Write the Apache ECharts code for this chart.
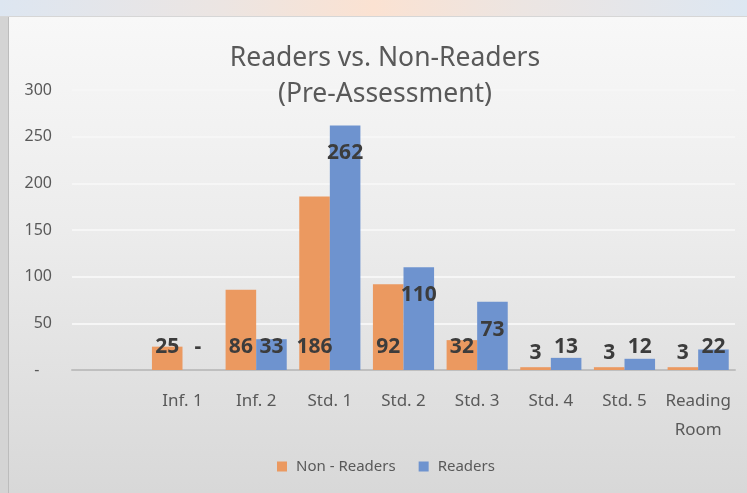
<!DOCTYPE html>
<html>
<head>
<meta charset="utf-8">
<script src="https://cdn.jsdelivr.net/npm/echarts@6/dist/echarts.min.js"></script>
<style>
  html, body { margin: 0; padding: 0; width: 747px; height: 493px; overflow: hidden; background: #f0f0f0; }
  #topstrip { position: absolute; left: 0; top: 0; width: 747px; height: 16px;
    background: linear-gradient(90deg, #dde6f1 0%, #ece5e2 30%, #fbe2d2 50%, #ece5e2 70%, #dde7f2 100%); }
  #topline { position: absolute; left: 0; top: 16px; width: 747px; height: 1px; background: #d6d6d6; }
  #leftstrip { position: absolute; left: 0; top: 17px; width: 8px; height: 476px; background: #d4d4d4; border-right: 1px solid #bcbcbc; }
  #main { position: absolute; left: 9px; top: 17px; width: 738px; height: 476px;
    background: linear-gradient(to bottom, #f8f8f8 0%, #ececec 45%, #d8d8d8 100%); }
  #chart { position: absolute; left: 0; top: 0; width: 747px; height: 493px; }
</style>
</head>
<body>
<div id="topstrip"></div>
<div id="topline"></div>
<div id="leftstrip"></div>
<div id="main"></div>
<div id="chart"></div>
<script>
// ---- Data ----
const categories = ['', 'Inf. 1', 'Inf. 2', 'Std. 1', 'Std. 2', 'Std. 3', 'Std. 4', 'Std. 5', 'Reading\nRoom'];
const nonReaders = ['-', 25, 86, 186, 92, 32, 3, 3, 3];
const readers = ['-', 0, 33, 262, 110, 73, 13, 12, 22];
const seriesNames = ['Non - Readers', 'Readers'];
const yTicks = { min: 0, max: 300, interval: 50 };

// ---- Style ----
const FONT = "'Noto Sans', 'Open Sans', sans-serif";
const baseLabel = { show: true, fontFamily: FONT, fontWeight: 'bold', fontSize: 21, lineHeight: 22, color: '#3c3c3c' };

function orangeItem(v) {
  if (v === '-') return { value: v, label: { show: false } };
  const small = v < 10;
  return { value: v, label: Object.assign({}, baseLabel, { position: 'insideBottom', distance: small ? 6 : 12 }) };
}
function blueItem(v) {
  if (v === '-') return { value: v, label: { show: false } };
  const big = v >= 50;
  return { value: v, label: Object.assign({}, baseLabel, {
    position: big ? 'insideTop' : 'insideBottom', distance: big ? 17 : 12,
    formatter: v === 0 ? '-' : '{c}' }) };
}

const chart = echarts.init(document.getElementById('chart'), null, { renderer: 'canvas' });
chart.setOption({
  backgroundColor: 'transparent',
  animation: false,
  title: {
    text: 'Readers vs. Non-Readers\n(Pre-Assessment)',
    left: 380, top: 35, textAlign: 'center',
    textStyle: { fontFamily: FONT, fontSize: 26.5, lineHeight: 36, fontWeight: 'normal', color: '#595959' }
  },
  legend: {
    data: seriesNames,
    left: 272, top: 454,
    itemWidth: 10, itemHeight: 10, itemGap: 23,
    icon: 'rect',
    textStyle: { fontFamily: FONT, fontSize: 15, color: '#595959', padding: [0, 0, 0, 4] }
  },
  grid: { left: 72, right: 12, top: 90, bottom: 123, containLabel: false },
  xAxis: {
    type: 'category',
    data: categories,
    axisLine: { show: true, lineStyle: { color: '#bfbfbf', width: 2 } },
    axisTick: { show: false },
    axisLabel: { fontFamily: FONT, fontSize: 17, lineHeight: 29, color: '#595959', margin: 17, interval: 0 },
    splitLine: { show: false }
  },
  yAxis: {
    type: 'value',
    min: yTicks.min, max: yTicks.max, interval: yTicks.interval,
    axisLine: { show: false },
    axisTick: { show: false },
    axisLabel: { fontFamily: FONT, fontSize: 16, color: '#595959', margin: 20,
      formatter: v => v === 0 ? '-   ' : String(v) },
    splitLine: { show: true, lineStyle: { color: '#f6f6f6', width: 2 } }
  },
  series: [
    { name: seriesNames[0], type: 'bar', barGap: 0, barCategoryGap: '17%',
      itemStyle: { color: '#EB9960' }, data: nonReaders.map(orangeItem) },
    { name: seriesNames[1], type: 'bar', barGap: 0, barCategoryGap: '17%',
      itemStyle: { color: '#6E93CF' }, data: readers.map(blueItem) }
  ]
});
</script>
</body>
</html>
